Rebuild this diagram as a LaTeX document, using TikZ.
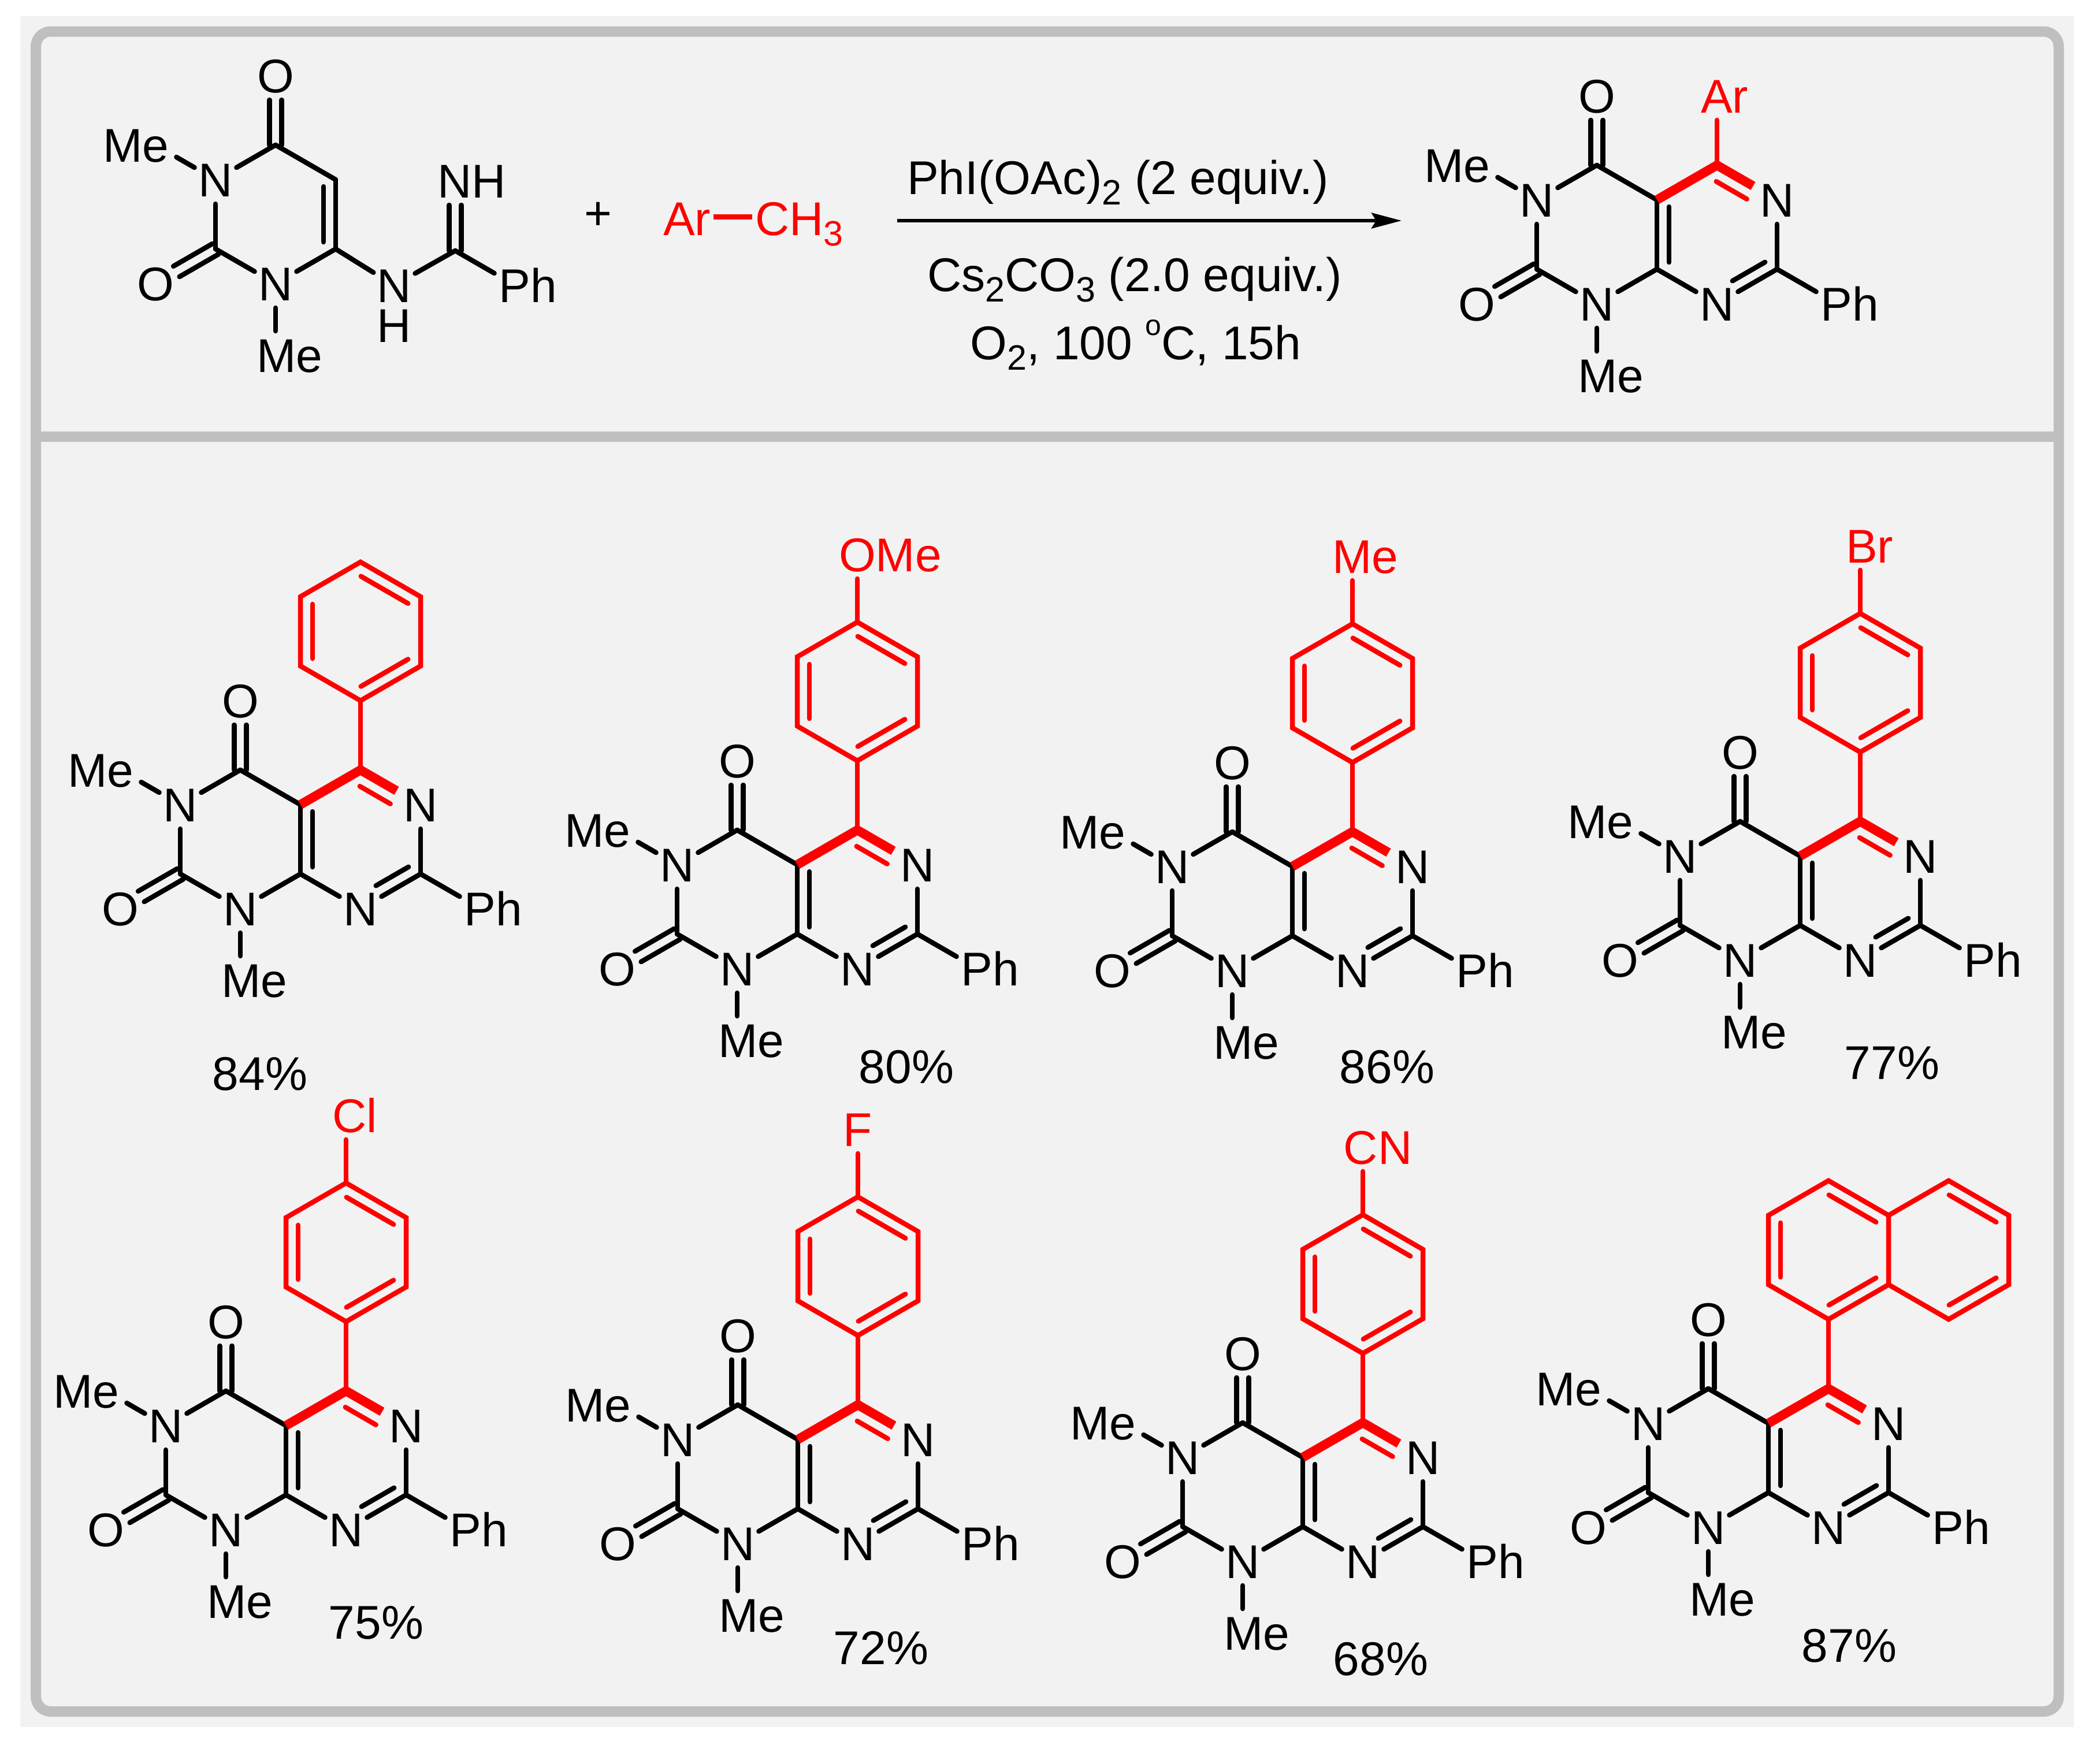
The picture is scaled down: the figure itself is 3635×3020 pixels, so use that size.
\documentclass[tikz,border=0pt]{standalone}
\usepackage{fontspec}
\setmainfont{Liberation Sans}
\usetikzlibrary{calc,arrows.meta}
\definecolor{panelbg}{HTML}{F2F2F2}
\definecolor{framegrey}{HTML}{BFBFBF}
\definecolor{chemred}{HTML}{FF0000}
\tikzset{
  bigfont/.style={font=\fontsize{82}{98}\selectfont},
  atom/.style={circle,inner sep=0pt,outer sep=0pt,minimum size=84pt,bigfont},
  txt/.style={inner sep=0pt,outer sep=0pt,bigfont},
  bond/.style={line width=8.5pt,line cap=round,draw=black},
  redbond/.style={line width=8.5pt,line cap=round,draw=chemred},
  boldbond/.style={line width=16pt,line join=miter,line cap=butt,draw=chemred},
  framestroke/.style={draw=framegrey,line width=18pt}
}
% offset (half-shift of text), name, position, text, optional colour
\newcommand{\atm}[5][black]{\node[atom,text=#1] (#3) at (#4) {\smash{\raisebox{-29.5pt}{\makebox[0pt][c]{\kern\dimexpr #2pt*2\relax #5}}}};}
% inner line of a double bond, on the left of travel A->B
\newcommand{\inb}[6]{\draw[#1,shorten <=#5pt,shorten >=#6pt] ($(#2)!#4pt!90:(#3)$) -- ($(#3)!#4pt!-90:(#2)$);}
% symmetric double bond from carbon A to label B
\newcommand{\sym}[2]{%
  \draw[bond] ($(#1)!10.5pt!90:(#2)$) -- ($(#2)!32pt!0:(#1)!10.5pt!90:(#2)$);}
\newcommand{\symb}[2]{%
  \draw[bond,shorten >=42pt] ($(#1)!10.5pt!90:(#2)$) -- ($(#2)!10.5pt!-90:(#1)$);
  \draw[bond,shorten >=42pt] ($(#1)!10.5pt!-90:(#2)$) -- ($(#2)!10.5pt!90:(#1)$);}
\newcommand{\sbs}[1]{\raisebox{-18pt}{\fontsize{61}{61}\selectfont #1}}
% barbituric-type ring, shared by the reactant and the products
\newcommand{\leftring}[1]{%
  \coordinate (#1a) at (0,0);
  \coordinate (#1b) at (0,120);
  \coordinate (#1co) at (-104,-60);
  \coordinate (#1cb) at (-208,120);
  \atm{0}{#1Ot}{-104,-180}{O}
  \atm{0}{#1Ol}{-312,180}{O}
  \atm{0}{#1Nt}{-208,0}{N}
  \atm{0}{#1Nb}{-104,180}{N}
  \atm{-34}{#1Mel}{-312,-60}{Me}
  \atm{24}{#1Meb}{-104,304}{Me}
  \draw[bond] (#1a) -- (#1co);
  \draw[bond] (#1co) -- (#1Nt);
  \draw[bond] (#1Nt) -- (#1cb);
  \draw[bond] (#1cb) -- (#1Nb);
  \draw[bond] (#1Nb) -- (#1b);
  \draw[bond] (#1Nt) -- (#1Mel);
  \draw[bond] (#1Nb) -- (#1Meb);
  \symb{#1co}{#1Ot}
  \symb{#1cb}{#1Ol}
  \draw[bond] (#1a) -- (#1b);
}
\newcommand{\rightring}[1]{%
  \coordinate (#1c4) at (104,-60);
  \coordinate (#1c2) at (208,120);
  \atm{0}{#1Nr}{208,0}{N}
  \atm{0}{#1Nm}{104,180}{N}
  \atm{22}{#1Ph}{312,180}{Ph}
  \draw[bond] (#1b) -- (#1Nm);
  \draw[bond] (#1Nm) -- (#1c2);
  \draw[bond] (#1c2) -- (#1Nr);
  \draw[bond] (#1c2) -- (#1Ph);
  \inb{bond}{#1a}{#1b}{21}{12}{12}
  \inb{bond}{#1Nm}{#1c2}{21}{43}{12}
  \inb{redbond}{#1Nr}{#1c4}{25}{46}{13}
  \draw[boldbond,shorten >=6pt] (#1a) -- (#1c4) -- (#1Nr);
}
% aryl ring above C4
\newcommand{\benzring}[1]{%
  \coordinate (#1B) at (104,-180);
  \coordinate (#1BR) at (208,-240);
  \coordinate (#1TR) at (208,-360);
  \coordinate (#1T) at (104,-420);
  \coordinate (#1TL) at (0,-360);
  \coordinate (#1BL) at (0,-240);
  \draw[redbond] (#1c4) -- (#1B);
  \draw[redbond,line join=miter] (#1B) -- (#1BR) -- (#1TR) -- (#1T) -- (#1TL) -- (#1BL) -- cycle;
  \inb{redbond}{#1B}{#1BR}{21}{13}{13}
  \inb{redbond}{#1TR}{#1T}{21}{13}{13}
  \inb{redbond}{#1TL}{#1BL}{21}{13}{13}
}
% para substituent: half-shift of the text, text
\newcommand{\parasub}[3]{%
  \atm[chemred]{#2}{#1X}{104,-537}{#3}
  \draw[redbond] (#1T) -- (#1X);
}
\begin{document}
\begin{tikzpicture}[x=1pt,y=-1pt]
\useasboundingbox (0,0) rectangle (3635,3020);
\fill[white] (0,0) rectangle (3635,3020);
\fill[panelbg] (35,28) rectangle (3590,2990);
\draw[framestroke,rounded corners=26pt] (62,54.5) rectangle (3563.5,2963);
\draw[framestroke] (62,755.5) -- (3563.5,755.5);

% reactant
\begin{scope}[shift={(581,311)}]
  \leftring{r}
  \inb{bond}{rb}{ra}{21}{12}{12}
  \atm{0}{rNH}{101,183}{N}
  \node[txt] (rH) at (101,253) {H};
  \coordinate (rC) at (207,123);
  \atm{29}{rNi}{207,2}{NH}
  \atm{22}{rPh}{311,183}{Ph}
  \draw[bond] (rb) -- (rNH);
  \draw[bond] (rNH) -- (rC);
  \draw[bond] (rC) -- (rPh);
  \symb{rC}{rNi}
\end{scope}
\node[txt] (plus) at (1035,374) {+};

% toluene
\node[txt,text=chemred,anchor=base west] (tAr) at (1148,407) {Ar};
\node[txt,text=chemred,anchor=base west] (tMe) at (1307,407) {CH\sbs{3}};
\draw[redbond,line cap=butt,line width=9pt] ($(tAr.base east)+(5,-32)$) -- ($(tMe.base west)+(-5,-32)$);

% arrow and conditions
\coordinate (arrS) at (1553,382);
\coordinate (arrE) at (2426,382);
\draw[line width=6pt,-{Stealth[length=52pt,width=27pt,inset=8pt]}] (arrS) -- (arrE);
\node[txt,anchor=base] (cond1) at (1935,336) {PhI(OAc)\sbs{2} (2 equiv.)};
\node[txt,anchor=base] (cond2) at (1964,504) {Cs\sbs{2}CO\sbs{3} (2.0 equiv.)};
\node[txt,anchor=base] (cond3) at (1966,622) {O\sbs{2}, 100 \raisebox{42pt}{\fontsize{50}{50}\selectfont o}C, 15h};

% general product
\begin{scope}[shift={(2868,346)}]
  \leftring{g}
  \rightring{g}
  \atm[chemred]{13}{gAr}{104,-180}{Ar}
  \draw[redbond] (gc4) -- (gAr);
\end{scope}

% 84 %
\begin{scope}[shift={(520,1393)}]
  \leftring{p}
  \rightring{p}
  \benzring{p}
\end{scope}
\node[txt] (y1) at (450,1859) {84\%};

% 80 %
\begin{scope}[shift={(1380,1497)}]
  \leftring{q}
  \rightring{q}
  \benzring{q}
  \parasub{q}{57}{OMe}
\end{scope}
\node[txt] (y2) at (1569,1847) {80\%};

% 86 %
\begin{scope}[shift={(2237,1500)}]
  \leftring{s}
  \rightring{s}
  \benzring{s}
  \parasub{s}{22}{Me}
\end{scope}
\node[txt] (y3) at (2401,1847) {86\%};

% 77 %
\begin{scope}[shift={(3116,1482)}]
  \leftring{t}
  \rightring{t}
  \benzring{t}
  \parasub{t}{16}{Br}
\end{scope}
\node[txt] (y4) at (3275,1840) {77\%};

% 75 %
\begin{scope}[shift={(495,2468)}]
  \leftring{u}
  \rightring{u}
  \benzring{u}
  \parasub{u}{15}{Cl}
\end{scope}
\node[txt] (y5) at (651,2809) {75\%};

% 72 %
\begin{scope}[shift={(1381,2492)}]
  \leftring{v}
  \rightring{v}
  \benzring{v}
  \parasub{v}{0}{F}
\end{scope}
\node[txt] (y6) at (1525,2853) {72\%};

% 68 %
\begin{scope}[shift={(2255,2523)}]
  \leftring{w}
  \rightring{w}
  \benzring{w}
  \parasub{w}{26}{CN}
\end{scope}
\node[txt] (y7) at (2390,2872) {68\%};

% 87 %
\begin{scope}[shift={(3061,2464)}]
  \leftring{z}
  \rightring{z}
  \benzring{z}
  \coordinate (zBb) at (312,-180);
  \coordinate (zBc) at (416,-240);
  \coordinate (zBd) at (416,-360);
  \coordinate (zBe) at (312,-420);
  \draw[redbond,line join=miter] (zTR) -- (zBe) -- (zBd) -- (zBc) -- (zBb) -- (zBR);
  \inb{redbond}{zBb}{zBc}{21}{13}{13}
  \inb{redbond}{zBd}{zBe}{21}{13}{13}
\end{scope}
\node[txt] (y8) at (3201,2849) {87\%};
\end{tikzpicture}
\end{document}
